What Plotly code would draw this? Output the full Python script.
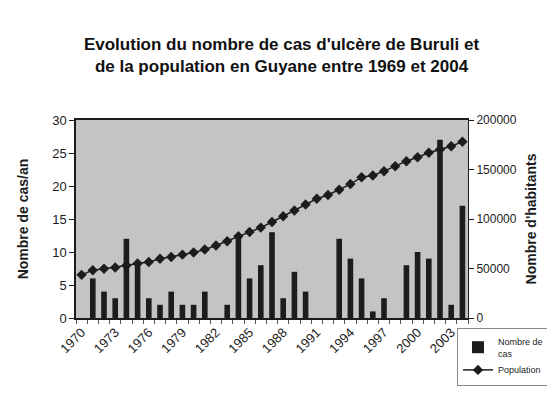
import plotly.graph_objects as go

# ---- data ----
years = list(range(1970, 2005))
cases = [0, 6, 4, 3, 12, 8, 3, 2, 4, 2, 2, 4, 0, 2, 12.6, 6, 8, 13, 3, 7, 4, 0, 0,
         12, 9, 6, 1, 3, 0, 8, 10, 9, 27, 2, 17]
population = [43600, 48300, 49700, 51000, 53000, 55000, 56600, 59800, 61600, 64000,
              66200, 69200, 73200, 77600, 82600, 86800, 91300, 97000, 102800, 108600,
              114600, 120500, 124300, 129500, 135300, 142200, 143900, 148300, 153300,
              158400, 162400, 166900, 170200, 173500, 178000]
label_years = list(range(1970, 2004, 3))
title_text = "Evolution du nombre de cas d'ulcère de Buruli et<br>de la population en Guyane entre 1969 et 2004"

# ---- layout constants (figure pixels; page adds an 8px body margin) ----
W, H = 547, 399
ML, MR, MT, MB = 68, 87, 112, 89
PW, PH = W - ML - MR, H - MT - MB
FONT = "Arial, Liberation Sans, sans-serif"
INK = "#1c1c1c"


def px_x(px):
    return (px - ML) / PW


def px_y(py):
    return (H - MB - py) / PH


fig = go.Figure()
fig.add_trace(go.Bar(
    x=years, y=cases, name="Nombre de<br>cas",
    marker=dict(color=INK, line=dict(width=0)),
    yaxis="y"))
fig.add_trace(go.Scatter(
    x=years, y=population, name="Population", mode="lines+markers",
    line=dict(color=INK, width=1.5),
    marker=dict(symbol="diamond", size=8, color=INK),
    yaxis="y2"))

fig.update_layout(
    width=W, height=H,
    margin=dict(l=ML, r=MR, t=MT, b=MB, autoexpand=False),
    paper_bgcolor="white",
    plot_bgcolor="#c4c4c4",
    bargap=0.5,
    font=dict(family=FONT, color=INK, size=12),
    title=dict(text="<b>" + title_text.replace("<br>", "</b><br><b>") + "</b>",
               x=0.5, xanchor="center", xref="container",
               y=1 - 42 / H, yanchor="middle",
               font=dict(family=FONT, size=17, color="#111")),
    xaxis=dict(range=[1969.5, 2004.5], tickvals=label_years,
               ticktext=[str(v) for v in label_years],
               tickangle=-45, ticks="", showgrid=False, zeroline=False,
               showline=True, linecolor=INK, linewidth=1.5, mirror=True,
               tickfont=dict(size=13),
               minor=dict(tickmode="linear", tick0=1969.5, dtick=1, ticks="outside",
                          ticklen=4, tickcolor="#555", showgrid=False)),
    yaxis=dict(range=[0, 30], dtick=5, ticks="outside", ticklen=5, tickcolor=INK,
               showgrid=False, zeroline=False, showline=True, linecolor=INK, linewidth=1.5,
               title=dict(text="<b>Nombre de cas/an</b>", font=dict(size=14), standoff=20),
               tickfont=dict(size=13)),
    yaxis2=dict(range=[0, 200000], dtick=50000, overlaying="y", side="right",
                tickformat="d",
                ticks="outside", ticklen=5, tickcolor=INK, showgrid=False, zeroline=False,
                showline=True, linecolor=INK, linewidth=1,
                title=dict(text="<b>Nombre d'habitants</b>", font=dict(size=14), standoff=10),
                tickfont=dict(size=12)),
    legend=dict(x=px_x(449), y=px_y(320), xanchor="left", yanchor="top",
                bgcolor="rgba(0,0,0,0)", bordercolor="#888", borderwidth=1,
                font=dict(size=9), tracegroupgap=0, itemwidth=30),
    showlegend=True,
)

fig.write_html("out.html")
